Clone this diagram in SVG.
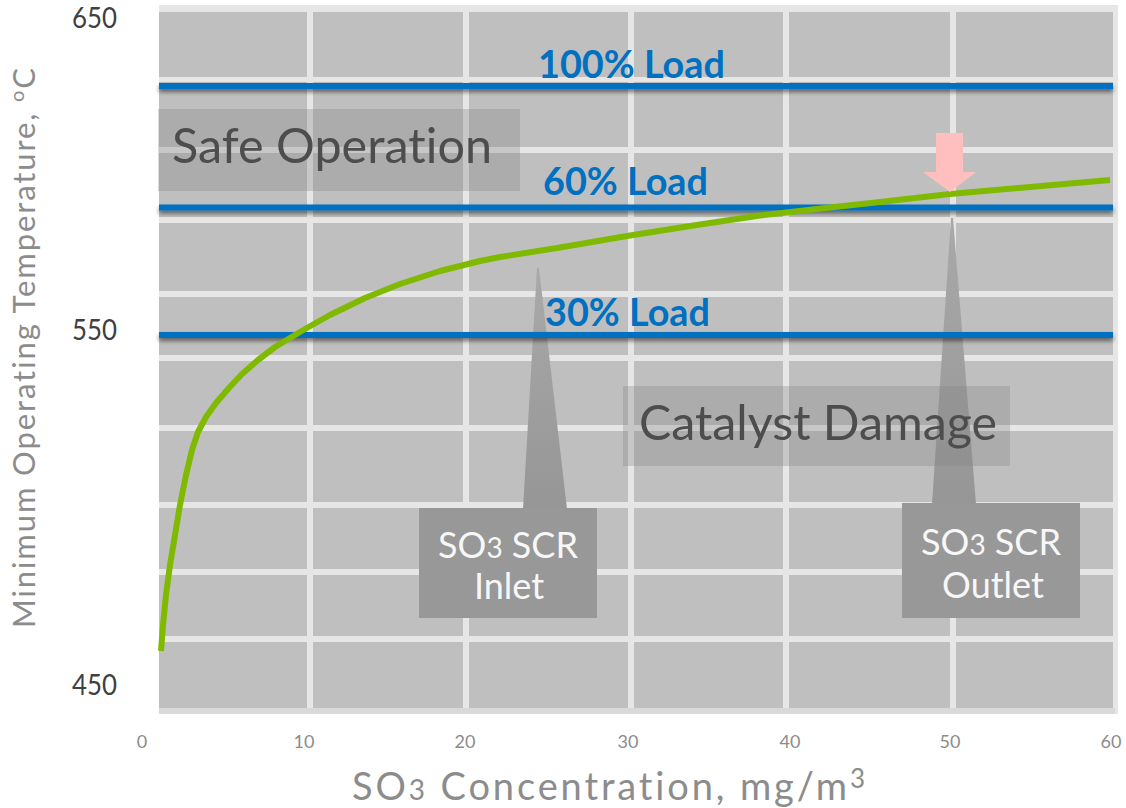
<svg xmlns="http://www.w3.org/2000/svg" width="1126" height="808" viewBox="0 0 1126 808">
<defs>
<style>
text{font-variant-ligatures:none;font-feature-settings:"liga" 0,"dlig" 0,"clig" 0}
.grid{fill:#e6e6e6}
.load{stroke:#0070c0;stroke-width:6;fill:none}
.loadtxt{font-family:Lato,"Noto Sans",sans-serif;font-weight:bold;font-size:38px;fill:#0070c0}
.zone{fill:#808080;fill-opacity:0.3}
.zonetxt{font-family:Lato,"Noto Sans",sans-serif;font-size:49px;fill:#4d4d4d}
.call{fill:#989898}
.calltxt{font-family:Lato,"Noto Sans",sans-serif;font-size:36px;fill:#f7f7f7;text-anchor:middle}
.ytick{font-family:Lato,"Noto Sans",sans-serif;font-size:29px;fill:#404040}
.xtick{font-family:Lato,"Noto Sans",sans-serif;font-size:18px;fill:#8c8c8c;text-anchor:middle}
.title{font-family:Lato,"Noto Sans",sans-serif;fill:#8c8c8c}
</style>
<filter id="shadow" x="-1%" y="-200%" width="102%" height="500%">
<feDropShadow dx="0" dy="3" stdDeviation="2.2" flood-color="#000" flood-opacity="0.5"/>
</filter>
<linearGradient id="spike" x1="0" y1="0" x2="0" y2="1">
<stop offset="0" stop-color="#a9a9a9"/>
<stop offset="1" stop-color="#969696"/>
</linearGradient>
</defs>

<g id="plot-area">
<rect x="159" y="5" width="959" height="709" fill="#e6e6e6"/>
<rect x="159" y="12" width="954" height="696" fill="#bfbfbf"/>
<rect x="159" y="708" width="956" height="6" fill="#d9d9d9"/>
<g id="grid">
<rect class="grid" x="159" y="77" width="954" height="5"/>
<rect class="grid" x="159" y="147" width="954" height="6"/>
<rect class="grid" x="159" y="217" width="954" height="6"/>
<rect class="grid" x="159" y="291" width="954" height="6"/>
<rect class="grid" x="159" y="355" width="954" height="6"/>
<rect class="grid" x="159" y="425" width="954" height="6"/>
<rect class="grid" x="159" y="502" width="954" height="6"/>
<rect class="grid" x="159" y="569" width="954" height="6"/>
<rect class="grid" x="159" y="636" width="954" height="6"/>
<rect class="grid" x="307" y="12" width="6" height="696"/>
<rect class="grid" x="463" y="12" width="6" height="696"/>
<rect class="grid" x="628" y="12" width="6" height="696"/>
<rect class="grid" x="783" y="12" width="6" height="696"/>
<rect class="grid" x="950" y="12" width="6" height="696"/>
</g>
</g>

<g id="zone-safe">
<rect class="zone" x="158" y="109" width="362" height="82"/>
<text class="zonetxt" x="172" y="163" textLength="320" lengthAdjust="spacingAndGlyphs">Safe Operation</text>
</g>

<g id="callout-inlet">
<polygon fill="url(#spike)" points="537,268 539,268 567,509 523,509"/>
<rect class="call" x="419" y="508" width="178" height="110"/>
<text class="calltxt" x="508" y="558">SO<tspan font-size="28px">3</tspan> SCR</text>
<text class="calltxt" x="509" y="599">Inlet</text>
</g>

<g id="callout-outlet">
<polygon fill="url(#spike)" points="951,218 953,218 976,504 932,504"/>
<rect class="call" x="902" y="503" width="178" height="115"/>
<text class="calltxt" x="991" y="555">SO<tspan font-size="28px">3</tspan> SCR</text>
<text class="calltxt" x="993" y="598">Outlet</text>
</g>

<g id="zone-damage">
<rect class="zone" x="623" y="386" width="387" height="80"/>
<text class="zonetxt" x="639" y="440" textLength="358" lengthAdjust="spacingAndGlyphs">Catalyst Damage</text>
</g>

<g id="connectors">
<g id="load-lines" filter="url(#shadow)">
<line class="load" x1="159" y1="86" x2="1113" y2="86"/>
<line class="load" x1="159" y1="207.5" x2="1113" y2="207.5"/>
<line class="load" x1="159" y1="335" x2="1113" y2="335"/>
</g>
<polyline id="curve" fill="none" stroke="#7fba00" stroke-width="6" stroke-linejoin="round" stroke-linecap="butt" points="161,651 163,625 166,595 170,565 175,535 180,505 186,475 192,450 198,432 206,417 216,403 228,389 242,374 258,360 275,347 290,338 305,329 330,315 365,298 400,284 440,271 480,261 500,257 560,247.5 630,235.5 700,224.5 760,215.5 830,207.5 880,202 950,194 1030,187 1110,180"/>
<polygon id="pointer" fill="#ffbfbf" points="936,133 963,133 963,172 976,172 950,192 923,172 936,172"/>
</g>

<g id="load-labels">
<text class="loadtxt" x="538" y="78" textLength="187" lengthAdjust="spacingAndGlyphs">100% Load</text>
<text class="loadtxt" x="543" y="195" textLength="165" lengthAdjust="spacingAndGlyphs">60% Load</text>
<text class="loadtxt" x="545" y="326" textLength="165" lengthAdjust="spacingAndGlyphs">30% Load</text>
</g>

<g id="y-axis">
<text class="ytick" x="72" y="28" textLength="45" lengthAdjust="spacingAndGlyphs">650</text>
<text class="ytick" x="72" y="340" textLength="45" lengthAdjust="spacingAndGlyphs">550</text>
<text class="ytick" x="72" y="695" textLength="45" lengthAdjust="spacingAndGlyphs">450</text>
<text class="title" font-size="31px" transform="translate(35,628) rotate(-90)" textLength="560" lengthAdjust="spacing">Minimum Operating Temperature, <tspan font-size="20px" dy="-11">o</tspan><tspan dy="11">C</tspan></text>
</g>

<g id="x-axis">
<text class="xtick" x="142" y="748">0</text>
<text class="xtick" x="304" y="748">10</text>
<text class="xtick" x="465" y="748">20</text>
<text class="xtick" x="628" y="748">30</text>
<text class="xtick" x="790" y="748">40</text>
<text class="xtick" x="950" y="748">50</text>
<text class="xtick" x="1111" y="748">60</text>
<text class="title" font-size="38px" x="352" y="800" textLength="513" lengthAdjust="spacing">SO<tspan font-size="28px">3</tspan> Concentration, mg/m<tspan font-size="26px" dy="-12">3</tspan></text>
</g>
</svg>
